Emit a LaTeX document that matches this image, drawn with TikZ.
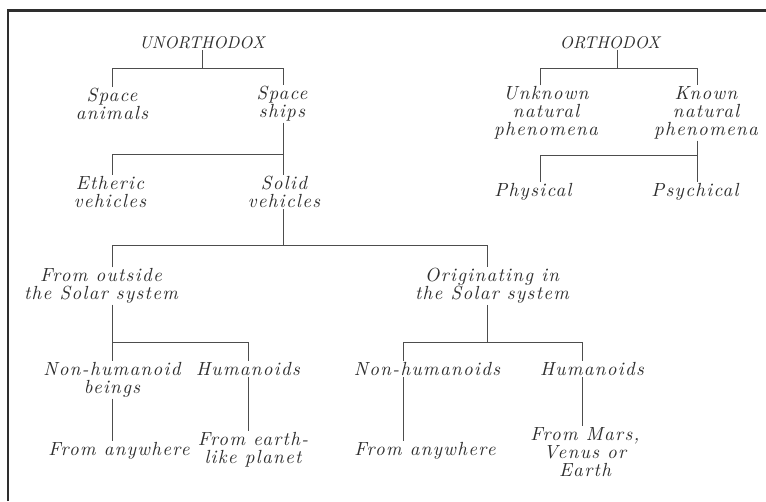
\documentclass[tikz,border=0pt]{standalone}
\usepackage{fontspec}
\usepackage{xcolor}
\usepackage{tikz}
\setmainfont{lmroman10}[Extension=.otf,UprightFont=*-regular,ItalicFont=*-italic,
  BoldFont=*-bold,LetterSpace=7]
\newfontfamily\headfont{lmroman10}[Extension=.otf,UprightFont=*-italic]
\definecolor{ink}{HTML}{2E2E2E}

\begin{document}
\begin{tikzpicture}[x=1pt,y=-1pt,
  every node/.style={align=center,text=ink,inner sep=1pt,
    font=\fontsize{19}{18}\selectfont\itshape},
  head/.style={font=\fontsize{17}{18}\headfont},
  link/.style={draw=ink!85,line width=1pt}]
  \useasboundingbox (0,0) rectangle (766,501);
  \fill[white] (0,0) rectangle (766,501);
  % frame
  \draw[ink,line width=2.2pt] (8,501) -- (8,10.5) -- (766,10.5);

  % unorthodox branch
  \node[head] (unorth) at (202,43) {UNORTHODOX};
  \node (anim) at (112,104) {Space\\animals};
  \node (ships) at (282,104) {Space\\ships};
  \node (ether) at (110,192) {Etheric\\vehicles};
  \node (solid) at (284,192) {Solid\\vehicles};
  \node (outside) at (101,286) {From outside\\the Solar system};
  \node (inside) at (492,286) {Originating in\\the Solar system};
  \node (nhb) at (112,380) {Non-humanoid\\beings};
  \node (hum1) at (248,369) {Humanoids};
  \node (any1) at (119,451) {From anywhere};
  \node (earth) at (253,450) {From earth-\\like planet};
  \node (nh2) at (427,369) {Non-humanoids};
  \node (hum2) at (592,369) {Humanoids};
  \node (any2) at (425,451) {From anywhere};
  \node (mars) at (585,452) {From Mars,\\Venus or\\Earth};

  % orthodox branch
  \node[head] (orth) at (610,43) {ORTHODOX};
  \node (unknown) at (546,113) {Unknown\\natural\\phenomena};
  \node (known) at (706,113) {Known\\natural\\phenomena};
  \node (phys) at (533,192) {Physical};
  \node (psych) at (695,192) {Psychical};

  % bar ends
  \coordinate (aL) at (112,68);  \coordinate (aR) at (283,68);  \coordinate (aS) at (202,68);
  \coordinate (bL) at (112,154); \coordinate (bR) at (283,154);
  \coordinate (cL) at (112,245); \coordinate (cR) at (487,245); \coordinate (cS) at (283,245);
  \coordinate (dL) at (112,342); \coordinate (dR) at (248,342);
  \coordinate (eL) at (403,342); \coordinate (eR) at (582,342); \coordinate (eS) at (487,342);
  \coordinate (fL) at (540,68);  \coordinate (fR) at (697,68);  \coordinate (fS) at (617,68);
  \coordinate (gL) at (540,155); \coordinate (gR) at (697,155);

  \draw[link] (unorth.south -| aS) -- (aS);
  \draw[link] (anim.north -| aL) -- (aL) -- (aR) -- (ships.north -| aR);
  \draw[link] (ships.south -| bR) -- (bR) -- (bL) -- (ether.north -| bL);
  \draw[link] (bR) -- (solid.north -| bR);
  \draw[link] (solid.south -| cS) -- (cS);
  \draw[link] (outside.north -| cL) -- (cL) -- (cR) -- (inside.north -| cR);
  \draw[link] (outside.south -| dL) -- (dL) -- (dR) -- (hum1.north -| dR);
  \draw[link] (dL) -- (nhb.north -| dL);
  \draw[link] (nhb.south -| dL) -- (any1.north -| dL);
  \draw[link] (hum1.south -| dR) -- (earth.north -| dR);
  \draw[link] (inside.south -| eS) -- (eS);
  \draw[link] (nh2.north -| eL) -- (eL) -- (eR) -- (hum2.north -| eR);
  \draw[link] (nh2.south -| eL) -- (any2.north -| eL);
  \draw[link] (hum2.south -| eR) -- (mars.north -| eR);
  \draw[link] (orth.south -| fS) -- (fS);
  \draw[link] (unknown.north -| fL) -- (fL) -- (fR) -- (known.north -| fR);
  \draw[link] (known.south -| gR) -- (gR) -- (gL) -- (phys.north -| gL);
  \draw[link] (gR) -- (psych.north -| gR);
\end{tikzpicture}
\end{document}
